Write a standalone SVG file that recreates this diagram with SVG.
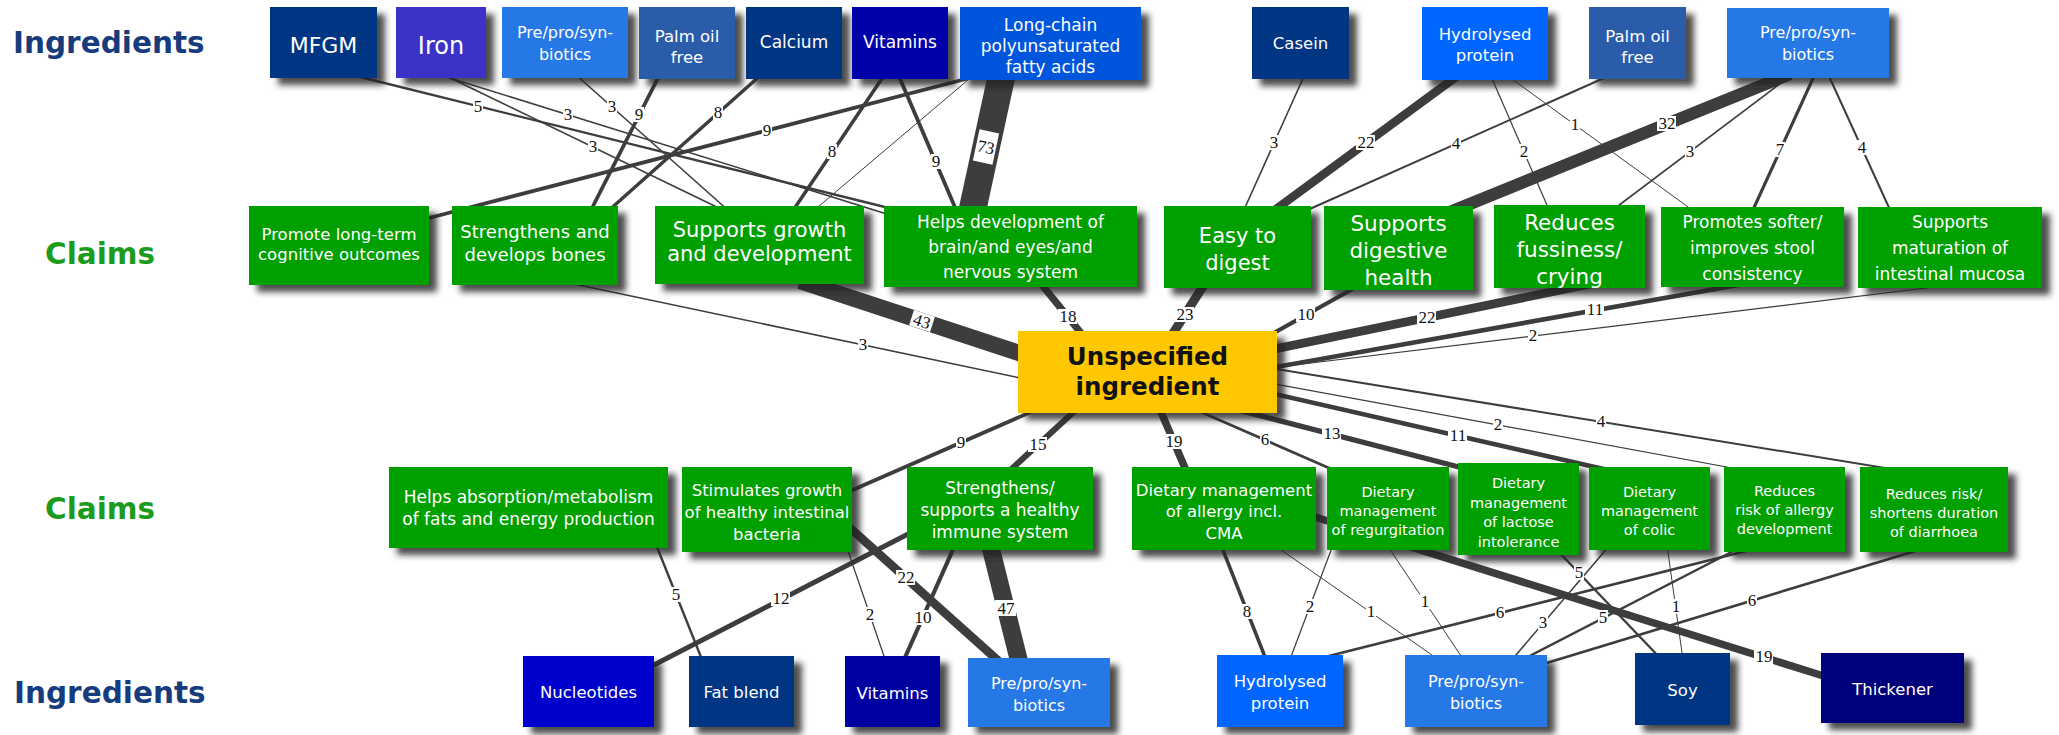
<svg xmlns="http://www.w3.org/2000/svg" width="2059" height="735" viewBox="0 0 2059 735">
<defs>
<filter id="sh" x="-5%" y="-5%" width="130%" height="145%">
<feDropShadow dx="8" dy="7" stdDeviation="3" flood-color="#222" flood-opacity="0.8"/>
</filter>
<style>
.e{stroke:#3d3d3d;fill:none}
.lb{font-family:"Liberation Serif","Times New Roman",serif;font-size:17px;fill:#111;text-anchor:middle}
.lbg{fill:#fff}
.nb{filter:url(#sh)}
.t{font-family:"DejaVu Sans",Verdana,sans-serif;fill:#fff;text-anchor:middle}
.gr{fill:#06a006}
.nv{fill:#063684}
.pp{fill:#2878e6}
.pm{fill:#2b5caa}
.rl{font-family:"DejaVu Sans",Verdana,sans-serif;font-weight:bold;font-size:29.5px}
.ctr{font-family:"DejaVu Sans",Verdana,sans-serif;font-weight:bold;font-size:24.5px;fill:#111;text-anchor:middle}
</style>
</defs>
<rect width="2059" height="735" fill="#fff"/>

<g id="row-labels">
<text class="rl" x="13" y="53" fill="#173c7d">Ingredients</text>
<text class="rl" x="45" y="264" fill="#1c9c1c">Claims</text>
<text class="rl" x="45" y="519" fill="#1c9c1c">Claims</text>
<text class="rl" x="14" y="703" fill="#173c7d">Ingredients</text>
</g>

<g id="connectors">
<g id="edges">
<line class="e" x1="340" y1="72" x2="905" y2="212" stroke-width="2.35"/>
<line class="e" x1="437" y1="74" x2="890" y2="215" stroke-width="1.6"/>
<line class="e" x1="442" y1="74" x2="727" y2="212" stroke-width="1.6"/>
<line class="e" x1="575" y1="74" x2="730" y2="212" stroke-width="1.6"/>
<line class="e" x1="660" y1="74" x2="590" y2="212" stroke-width="3.8"/>
<line class="e" x1="762" y1="74" x2="607" y2="212" stroke-width="3.5"/>
<line class="e" x1="985" y1="74" x2="429" y2="218" stroke-width="3.8"/>
<line class="e" x1="1002" y1="74" x2="972" y2="212" stroke-width="27.5"/>
<line class="e" x1="975" y1="74" x2="812" y2="212" stroke-width="1"/>
<line class="e" x1="885" y1="74" x2="792" y2="212" stroke-width="3.5"/>
<line class="e" x1="898" y1="74" x2="957" y2="212" stroke-width="3.8"/>
<line class="e" x1="1305" y1="74" x2="1243" y2="212" stroke-width="1.6"/>
<line class="e" x1="1460" y1="74" x2="1272" y2="212" stroke-width="8.6"/>
<line class="e" x1="1613" y1="74" x2="1303" y2="212" stroke-width="2"/>
<line class="e" x1="1490" y1="74" x2="1550" y2="212" stroke-width="1.24"/>
<line class="e" x1="1505" y1="74" x2="1695" y2="212" stroke-width="1"/>
<line class="e" x1="1790" y1="74" x2="1450" y2="212" stroke-width="12.3"/>
<line class="e" x1="1793" y1="74" x2="1610" y2="212" stroke-width="1.6"/>
<line class="e" x1="1815" y1="74" x2="1752" y2="212" stroke-width="3.1"/>
<line class="e" x1="1828" y1="74" x2="1891" y2="212" stroke-width="2"/>
<line class="e" x1="555" y1="280" x2="1025" y2="379" stroke-width="1.6"/>
<line class="e" x1="800" y1="281" x2="1025" y2="355" stroke-width="16.4"/>
<line class="e" x1="1038" y1="280" x2="1085" y2="338" stroke-width="7.2"/>
<line class="e" x1="1207" y1="280" x2="1170" y2="338" stroke-width="9"/>
<line class="e" x1="1365" y1="282" x2="1265" y2="338" stroke-width="4.2"/>
<line class="e" x1="1600" y1="282" x2="1270" y2="350" stroke-width="8.6"/>
<line class="e" x1="1755" y1="282" x2="1270" y2="368" stroke-width="4.6"/>
<line class="e" x1="1975" y1="282" x2="1270" y2="368" stroke-width="1.24"/>
<line class="e" x1="1158" y1="405" x2="1188" y2="475" stroke-width="7.5"/>
<line class="e" x1="1185" y1="405" x2="1345" y2="475" stroke-width="2.7"/>
<line class="e" x1="1230" y1="408" x2="1490" y2="475" stroke-width="5.3"/>
<line class="e" x1="1270" y1="393" x2="1630" y2="475" stroke-width="4.6"/>
<line class="e" x1="1270" y1="383" x2="1770" y2="475" stroke-width="1.24"/>
<line class="e" x1="1270" y1="368" x2="1928" y2="475" stroke-width="2"/>
<line class="e" x1="1040" y1="408" x2="848" y2="492" stroke-width="3.8"/>
<line class="e" x1="1078" y1="408" x2="1005" y2="475" stroke-width="6"/>
<line class="e" x1="655" y1="542" x2="703" y2="662" stroke-width="2.35"/>
<line class="e" x1="912" y1="532" x2="648" y2="668" stroke-width="4.9"/>
<line class="e" x1="846" y1="545" x2="886" y2="662" stroke-width="1.24"/>
<line class="e" x1="850" y1="528" x2="1003" y2="665" stroke-width="8.6"/>
<line class="e" x1="955" y1="545" x2="903" y2="662" stroke-width="4.2"/>
<line class="e" x1="990" y1="545" x2="1020" y2="665" stroke-width="17.9"/>
<line class="e" x1="1221" y1="545" x2="1267" y2="662" stroke-width="3.5"/>
<line class="e" x1="1333" y1="545" x2="1289" y2="662" stroke-width="1.24"/>
<line class="e" x1="1274" y1="545" x2="1442" y2="662" stroke-width="1"/>
<line class="e" x1="1387" y1="545" x2="1465" y2="662" stroke-width="1"/>
<line class="e" x1="1770" y1="545" x2="1305" y2="662" stroke-width="2.7"/>
<line class="e" x1="1610" y1="545" x2="1510" y2="662" stroke-width="1.6"/>
<line class="e" x1="1745" y1="545" x2="1518" y2="662" stroke-width="2.35"/>
<line class="e" x1="1935" y1="545" x2="1540" y2="665" stroke-width="2.7"/>
<line class="e" x1="1555" y1="548" x2="1662" y2="660" stroke-width="2.35"/>
<line class="e" x1="1667" y1="545" x2="1683" y2="660" stroke-width="1"/>
<line class="e" x1="1315" y1="517" x2="1830" y2="678" stroke-width="7.5"/>
</g>
<g id="edge-labels">
<rect class="lbg" x="473" y="99" width="10" height="15"/><text class="lb" x="478" y="112">5</text>
<rect class="lbg" x="563" y="107" width="10" height="15"/><text class="lb" x="568" y="120">3</text>
<rect class="lbg" x="588" y="139" width="10" height="15"/><text class="lb" x="593" y="152">3</text>
<rect class="lbg" x="607" y="99" width="10" height="15"/><text class="lb" x="612" y="112">3</text>
<rect class="lbg" x="634" y="107" width="10" height="15"/><text class="lb" x="639" y="120">9</text>
<rect class="lbg" x="713" y="105" width="10" height="15"/><text class="lb" x="718" y="118">8</text>
<rect class="lbg" x="762" y="123" width="10" height="15"/><text class="lb" x="767" y="136">9</text>
<g transform="rotate(12 986 147)"><rect class="lbg" x="976" y="131" width="20" height="32"/><text class="lb" x="986" y="153">73</text></g>
<rect class="lbg" x="827" y="144" width="10" height="15"/><text class="lb" x="832" y="157">8</text>
<rect class="lbg" x="931" y="154" width="10" height="15"/><text class="lb" x="936" y="167">9</text>
<rect class="lbg" x="1269" y="135" width="10" height="15"/><text class="lb" x="1274" y="148">3</text>
<rect class="lbg" x="1356" y="135" width="19" height="15"/><text class="lb" x="1366" y="148">22</text>
<rect class="lbg" x="1451" y="136" width="10" height="15"/><text class="lb" x="1456" y="149">4</text>
<rect class="lbg" x="1519" y="144" width="10" height="15"/><text class="lb" x="1524" y="157">2</text>
<rect class="lbg" x="1570" y="117" width="10" height="15"/><text class="lb" x="1575" y="130">1</text>
<rect class="lbg" x="1657" y="116" width="19" height="15"/><text class="lb" x="1667" y="129">32</text>
<rect class="lbg" x="1685" y="144" width="10" height="15"/><text class="lb" x="1690" y="157">3</text>
<rect class="lbg" x="1775" y="142" width="10" height="15"/><text class="lb" x="1780" y="155">7</text>
<rect class="lbg" x="1857" y="140" width="10" height="15"/><text class="lb" x="1862" y="153">4</text>
<rect class="lbg" x="858" y="337" width="10" height="15"/><text class="lb" x="863" y="350">3</text>
<g transform="rotate(18 922 321)"><rect class="lbg" x="911" y="313" width="22" height="16"/><text class="lb" x="922" y="327">43</text></g>
<rect class="lbg" x="1058" y="309" width="19" height="15"/><text class="lb" x="1068" y="322">18</text>
<rect class="lbg" x="1175" y="307" width="19" height="15"/><text class="lb" x="1185" y="320">23</text>
<rect class="lbg" x="1296" y="307" width="19" height="15"/><text class="lb" x="1306" y="320">10</text>
<rect class="lbg" x="1417" y="310" width="19" height="15"/><text class="lb" x="1427" y="323">22</text>
<rect class="lbg" x="1585" y="302" width="19" height="15"/><text class="lb" x="1595" y="315">11</text>
<rect class="lbg" x="1528" y="328" width="10" height="15"/><text class="lb" x="1533" y="341">2</text>
<rect class="lbg" x="1164" y="434" width="19" height="15"/><text class="lb" x="1174" y="447">19</text>
<rect class="lbg" x="1260" y="432" width="10" height="15"/><text class="lb" x="1265" y="445">6</text>
<rect class="lbg" x="1322" y="426" width="19" height="15"/><text class="lb" x="1332" y="439">13</text>
<rect class="lbg" x="1448" y="428" width="19" height="15"/><text class="lb" x="1458" y="441">11</text>
<rect class="lbg" x="1493" y="417" width="10" height="15"/><text class="lb" x="1498" y="430">2</text>
<rect class="lbg" x="1596" y="414" width="10" height="15"/><text class="lb" x="1601" y="427">4</text>
<rect class="lbg" x="956" y="435" width="10" height="15"/><text class="lb" x="961" y="448">9</text>
<rect class="lbg" x="1028" y="437" width="19" height="15"/><text class="lb" x="1038" y="450">15</text>
<rect class="lbg" x="671" y="587" width="10" height="15"/><text class="lb" x="676" y="600">5</text>
<rect class="lbg" x="771" y="591" width="19" height="15"/><text class="lb" x="781" y="604">12</text>
<rect class="lbg" x="865" y="607" width="10" height="15"/><text class="lb" x="870" y="620">2</text>
<rect class="lbg" x="896" y="570" width="19" height="15"/><text class="lb" x="906" y="583">22</text>
<rect class="lbg" x="913" y="610" width="19" height="15"/><text class="lb" x="923" y="623">10</text>
<rect class="lbg" x="995" y="600" width="21" height="16"/><text class="lb" x="1006" y="614">47</text>
<rect class="lbg" x="1242" y="604" width="10" height="15"/><text class="lb" x="1247" y="617">8</text>
<rect class="lbg" x="1305" y="599" width="10" height="15"/><text class="lb" x="1310" y="612">2</text>
<rect class="lbg" x="1366" y="604" width="10" height="15"/><text class="lb" x="1371" y="617">1</text>
<rect class="lbg" x="1420" y="594" width="10" height="15"/><text class="lb" x="1425" y="607">1</text>
<rect class="lbg" x="1495" y="605" width="10" height="15"/><text class="lb" x="1500" y="618">6</text>
<rect class="lbg" x="1538" y="615" width="10" height="15"/><text class="lb" x="1543" y="628">3</text>
<rect class="lbg" x="1598" y="610" width="10" height="15"/><text class="lb" x="1603" y="623">5</text>
<rect class="lbg" x="1747" y="593" width="10" height="15"/><text class="lb" x="1752" y="606">6</text>
<rect class="lbg" x="1574" y="565" width="10" height="15"/><text class="lb" x="1579" y="578">5</text>
<rect class="lbg" x="1671" y="599" width="10" height="15"/><text class="lb" x="1676" y="612">1</text>
<rect class="lbg" x="1754" y="649" width="19" height="15"/><text class="lb" x="1764" y="662">19</text>
</g>
</g>

<g id="ing-top-mfgm"><rect class="nb nv" x="270" y="7" width="107" height="71"/><text class="t" font-size="22" x="323.5" y="53">MFGM</text></g>
<g id="ing-top-iron"><rect class="nb" fill="#3a33c8" x="396" y="7" width="90" height="71"/><text class="t" font-size="24" x="441" y="54">Iron</text></g>
<g id="ing-top-prepro-1"><rect class="nb pp" x="502" y="7" width="126" height="71"/><text class="t" font-size="16"><tspan x="565" y="38">Pre/pro/syn-</tspan><tspan x="565" y="60">biotics</tspan></text></g>
<g id="ing-top-palm-1"><rect class="nb pm" x="639" y="7" width="96" height="72"/><text class="t" font-size="16.5"><tspan x="687" y="42">Palm oil</tspan><tspan x="687" y="63">free</tspan></text></g>
<g id="ing-top-calcium"><rect class="nb nv" x="746" y="7" width="96" height="72"/><text class="t" font-size="17" x="794" y="48">Calcium</text></g>
<g id="ing-top-vitamins"><rect class="nb" fill="#0303a8" x="852" y="7" width="96" height="72"/><text class="t" font-size="17" x="900" y="48">Vitamins</text></g>
<g id="ing-top-lcpufa"><rect class="nb" fill="#0055dd" x="960" y="7" width="181" height="73"/><text class="t" font-size="17"><tspan x="1050.5" y="31">Long-chain</tspan><tspan x="1050.5" y="52">polyunsaturated</tspan><tspan x="1050.5" y="73">fatty acids</tspan></text></g>
<g id="ing-top-casein"><rect class="nb nv" x="1252" y="7" width="97" height="72"/><text class="t" font-size="16.5" x="1300.5" y="49">Casein</text></g>
<g id="ing-top-hydrolysed"><rect class="nb" fill="#0066ff" x="1422" y="7" width="126" height="73"/><text class="t" font-size="16.5"><tspan x="1485" y="40">Hydrolysed</tspan><tspan x="1485" y="61">protein</tspan></text></g>
<g id="ing-top-palm-2"><rect class="nb pm" x="1589" y="7" width="97" height="72"/><text class="t" font-size="16.5"><tspan x="1637.5" y="42">Palm oil</tspan><tspan x="1637.5" y="63">free</tspan></text></g>
<g id="ing-top-prepro-2"><rect class="nb pp" x="1727" y="8" width="162" height="70"/><text class="t" font-size="16"><tspan x="1808" y="38">Pre/pro/syn-</tspan><tspan x="1808" y="60">biotics</tspan></text></g>

<g id="claim-cognitive"><rect class="nb gr" x="249" y="206" width="180" height="79"/><text class="t" font-size="16.5"><tspan x="339" y="240">Promote long-term</tspan><tspan x="339" y="260">cognitive outcomes</tspan></text></g>
<g id="claim-bones"><rect class="nb gr" x="452" y="206" width="166" height="79"/><text class="t" font-size="18"><tspan x="535" y="238">Strengthens and</tspan><tspan x="535" y="261">develops bones</tspan></text></g>
<g id="claim-growth"><rect class="nb gr" x="655" y="206" width="209" height="78"/><text class="t" font-size="21"><tspan x="759.5" y="237">Supports growth</tspan><tspan x="759.5" y="261">and development</tspan></text></g>
<g id="claim-brain"><rect class="nb gr" x="884" y="206" width="253" height="81"/><text class="t" font-size="17"><tspan x="1010.5" y="228">Helps development of</tspan><tspan x="1010.5" y="253">brain/and eyes/and</tspan><tspan x="1010.5" y="278">nervous system</tspan></text></g>
<g id="claim-digest"><rect class="nb gr" x="1164" y="206" width="147" height="82"/><text class="t" font-size="21"><tspan x="1237.5" y="243">Easy to</tspan><tspan x="1237.5" y="270">digest</tspan></text></g>
<g id="claim-digestive"><rect class="nb gr" x="1324" y="206" width="149" height="84"/><text class="t" font-size="21.5"><tspan x="1398.5" y="231">Supports</tspan><tspan x="1398.5" y="258">digestive</tspan><tspan x="1398.5" y="285">health</tspan></text></g>
<g id="claim-fussiness"><rect class="nb gr" x="1494" y="205" width="151" height="83"/><text class="t" font-size="21.5"><tspan x="1569.5" y="230">Reduces</tspan><tspan x="1569.5" y="257">fussiness/</tspan><tspan x="1569.5" y="284">crying</tspan></text></g>
<g id="claim-stool"><rect class="nb gr" x="1661" y="207" width="183" height="80"/><text class="t" font-size="17"><tspan x="1752.5" y="228">Promotes softer/</tspan><tspan x="1752.5" y="254">improves stool</tspan><tspan x="1752.5" y="280">consistency</tspan></text></g>
<g id="claim-mucosa"><rect class="nb gr" x="1858" y="207" width="184" height="81"/><text class="t" font-size="17"><tspan x="1950" y="228">Supports</tspan><tspan x="1950" y="254">maturation of</tspan><tspan x="1950" y="280">intestinal mucosa</tspan></text></g>

<g id="center-unspecified"><rect class="nb" fill="#ffc700" x="1018" y="331" width="259" height="82"/><text class="ctr"><tspan x="1147.5" y="365">Unspecified</tspan><tspan x="1147.5" y="395">ingredient</tspan></text></g>

<g id="claim-fats"><rect class="nb gr" x="389" y="467" width="279" height="81"/><text class="t" font-size="17"><tspan x="528.5" y="503">Helps absorption/metabolism</tspan><tspan x="528.5" y="525">of fats and energy production</tspan></text></g>
<g id="claim-bacteria"><rect class="nb gr" x="682" y="467" width="170" height="85"/><text class="t" font-size="16.5"><tspan x="767" y="496">Stimulates growth</tspan><tspan x="767" y="518">of healthy intestinal</tspan><tspan x="767" y="540">bacteria</tspan></text></g>
<g id="claim-immune"><rect class="nb gr" x="907" y="467" width="186" height="83"/><text class="t" font-size="17"><tspan x="1000" y="494">Strengthens/</tspan><tspan x="1000" y="516">supports a healthy</tspan><tspan x="1000" y="538">immune system</tspan></text></g>
<g id="claim-cma"><rect class="nb gr" x="1132" y="467" width="184" height="83"/><text class="t" font-size="16.5"><tspan x="1224" y="496">Dietary management</tspan><tspan x="1224" y="517">of allergy incl.</tspan><tspan x="1224" y="539">CMA</tspan></text></g>
<g id="claim-regurgitation"><rect class="nb gr" x="1327" y="467" width="122" height="83"/><text class="t" font-size="14.5"><tspan x="1388" y="497">Dietary</tspan><tspan x="1388" y="516">management</tspan><tspan x="1388" y="535">of regurgitation</tspan></text></g>
<g id="claim-lactose"><rect class="nb gr" x="1458" y="463" width="121" height="92"/><text class="t" font-size="14.5"><tspan x="1518.5" y="488">Dietary</tspan><tspan x="1518.5" y="507.5">management</tspan><tspan x="1518.5" y="527">of lactose</tspan><tspan x="1518.5" y="546.5">intolerance</tspan></text></g>
<g id="claim-colic"><rect class="nb gr" x="1589" y="467" width="121" height="83"/><text class="t" font-size="14.5"><tspan x="1649.5" y="497">Dietary</tspan><tspan x="1649.5" y="516">management</tspan><tspan x="1649.5" y="535">of colic</tspan></text></g>
<g id="claim-allergy-risk"><rect class="nb gr" x="1724" y="467" width="121" height="85"/><text class="t" font-size="14.5"><tspan x="1784.5" y="496">Reduces</tspan><tspan x="1784.5" y="515">risk of allergy</tspan><tspan x="1784.5" y="534">development</tspan></text></g>
<g id="claim-diarrhoea"><rect class="nb gr" x="1860" y="467" width="148" height="85"/><text class="t" font-size="14.5"><tspan x="1934" y="499">Reduces risk/</tspan><tspan x="1934" y="518">shortens duration</tspan><tspan x="1934" y="537">of diarrhoea</tspan></text></g>

<g id="ing-bot-nucleotides"><rect class="nb" fill="#0202cc" x="523" y="656" width="131" height="71"/><text class="t" font-size="16.5" x="588.5" y="698">Nucleotides</text></g>
<g id="ing-bot-fatblend"><rect class="nb nv" x="689" y="656" width="105" height="71"/><text class="t" font-size="16.5" x="741.5" y="698">Fat blend</text></g>
<g id="ing-bot-vitamins"><rect class="nb" fill="#0606a0" x="845" y="656" width="95" height="71"/><text class="t" font-size="16.5" x="892.5" y="699">Vitamins</text></g>
<g id="ing-bot-prepro-1"><rect class="nb pp" x="968" y="658" width="142" height="69"/><text class="t" font-size="16"><tspan x="1039" y="689">Pre/pro/syn-</tspan><tspan x="1039" y="711">biotics</tspan></text></g>
<g id="ing-bot-hydrolysed"><rect class="nb" fill="#0066ff" x="1217" y="655" width="126" height="72"/><text class="t" font-size="16.5"><tspan x="1280" y="687">Hydrolysed</tspan><tspan x="1280" y="709">protein</tspan></text></g>
<g id="ing-bot-prepro-2"><rect class="nb pp" x="1405" y="655" width="142" height="72"/><text class="t" font-size="16"><tspan x="1476" y="687">Pre/pro/syn-</tspan><tspan x="1476" y="709">biotics</tspan></text></g>
<g id="ing-bot-soy"><rect class="nb nv" x="1635" y="653" width="95" height="72"/><text class="t" font-size="16.5" x="1682.5" y="696">Soy</text></g>
<g id="ing-bot-thickener"><rect class="nb" fill="#05057a" x="1821" y="653" width="143" height="70"/><text class="t" font-size="16.5" x="1892.5" y="695">Thickener</text></g>
</svg>
